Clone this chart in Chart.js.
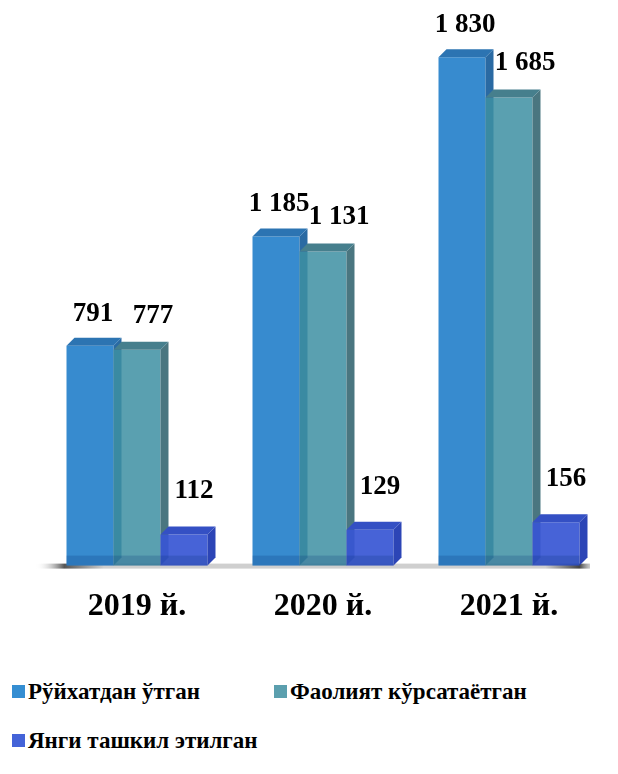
<!DOCTYPE html>
<html>
<head>
<meta charset="utf-8">
<script src="https://cdn.jsdelivr.net/npm/chart.js@4/dist/chart.umd.min.js"></script>
<style>
  html, body { margin: 0; padding: 0; background: #fff; }
  #wrap { position: relative; width: 618px; height: 774px; }
  #box { position: absolute; left: 0; top: 0; width: 618px; height: 660px; }
  .leg { position: absolute; font: bold 23px 'Liberation Serif', serif; color: #000; white-space: nowrap; }
  .leg i { display: inline-block; width: 13px; height: 13px; margin-right: 3px; vertical-align: 1px; }
</style>
</head>
<body>
<div id="wrap">
  <div id="box"><canvas id="c"></canvas></div>
  <div class="leg" style="left:12px;top:679px"><i style="background:#358ed2"></i>Рўйхатдан ўтган</div>
  <div class="leg" style="left:274px;top:679px"><i style="background:#5b9fae"></i>Фаолият кўрсатаётган</div>
  <div class="leg" style="left:12px;top:728px"><i style="background:#4463d8"></i>Янги ташкил этилган</div>
</div>
<script>
  const years = ['2019 й.', '2020 й.', '2021 й.'];
  const registered = [791, 1185, 1830];
  const active = [777, 1131, 1685];
  const created = [112, 129, 156];
  const seriesNames = ['Рўйхатдан ўтган', 'Фаолият кўрсатаётган', 'Янги ташкил этилган'];

  // front faces are a bit see-through, like the Excel 3D glass look
  const FRONT = ['#378bcf', 'rgba(61,143,162,0.85)', 'rgba(55,86,212,0.92)'];
  const TOP = ['#2c74b2', '#467f8d', '#3450c4'];
  const SIDE = ['#2a6aa3', '#4a7680', '#2c45b6'];
  const DEPTH = 8;
  const FONT = "'Liberation Serif', serif";

  // label offsets per series (Excel placed them by hand)
  const LBL_DX = [3, 16, 10];
  const LBL_DY = [-32, -34, -43];

  const fmt = (v) => String(v).replace(/\B(?=(\d{3})+(?!\d))/g, ' ');

  function drawFloor(chart) {
    const ctx = chart.ctx, a = chart.chartArea;
    const g = ctx.createLinearGradient(a.left - 8, 0, a.right, 0);
    g.addColorStop(0, 'rgba(255,255,255,0)');
    g.addColorStop(0.05, '#555');
    g.addColorStop(0.12, '#cfcfcf');
    g.addColorStop(0.9, '#cfcfcf');
    g.addColorStop(0.96, '#444');
    g.addColorStop(1, 'rgba(255,255,255,0)');
    ctx.fillStyle = g;
    ctx.fillRect(a.left - 8, a.bottom - 2, a.right - a.left - 4, 5);
  }

  function drawFaces(chart, i) {
    const ctx = chart.ctx, d = DEPTH;
    chart.getDatasetMeta(i).data.forEach((b) => {
      const l = b.x - b.width / 2, r = b.x + b.width / 2, t = b.y, bot = b.base;
      ctx.fillStyle = SIDE[i];
      ctx.beginPath();
      ctx.moveTo(r, t); ctx.lineTo(r + d, t - d); ctx.lineTo(r + d, bot - d); ctx.lineTo(r, bot);
      ctx.closePath(); ctx.fill();
      ctx.fillStyle = TOP[i];
      ctx.beginPath();
      ctx.moveTo(l, t); ctx.lineTo(l + d, t - d); ctx.lineTo(r + d, t - d); ctx.lineTo(r, t);
      ctx.closePath(); ctx.fill();
      // darker foot where the bar meets the floor
      ctx.fillStyle = 'rgba(10,50,120,0.22)';
      ctx.fillRect(l, bot - 10, r - l, 10);
    });
  }

  /* Paint series front-to-back in index order (Chart.js paints in reverse),
     so each bar's 3D side sits behind the next series' front face. */
  const bars3d = {
    id: 'bars3d',
    beforeDatasetsDraw(chart) {
      const ctx = chart.ctx;
      ctx.save();
      drawFloor(chart);
      for (let i = 0; i < chart.data.datasets.length; i++) {
        chart.getDatasetMeta(i).controller.draw();
        drawFaces(chart, i);
      }
      ctx.restore();
      return false;
    },
    afterDraw(chart) {
      const ctx = chart.ctx;
      ctx.save();
      ctx.font = 'bold 27px ' + FONT;
      ctx.fillStyle = '#000';
      ctx.textAlign = 'center';
      ctx.textBaseline = 'middle';
      chart.data.datasets.forEach((ds, i) => {
        chart.getDatasetMeta(i).data.forEach((b, j) => {
          ctx.fillText(fmt(ds.data[j]), b.x + LBL_DX[i], b.y + LBL_DY[i]);
        });
      });
      ctx.restore();
    }
  };

  new Chart(document.getElementById('c'), {
    type: 'bar',
    data: {
      labels: years,
      datasets: [registered, active, created].map((data, i) => ({
        label: seriesNames[i], data, backgroundColor: FRONT[i], borderWidth: 0,
        barPercentage: 1, categoryPercentage: 0.758
      }))
    },
    options: {
      responsive: true, maintainAspectRatio: false, animation: false,
      layout: { padding: { left: 44, right: 16, top: 10, bottom: 20 } },
      plugins: { legend: { display: false }, tooltip: { enabled: false } },
      scales: {
        x: {
          grid: { display: false }, border: { display: false },
          ticks: { color: '#000', padding: 14, font: { family: FONT, size: 32, weight: 'bold' } }
        },
        y: { display: false, min: 0, max: 2000 }
      }
    },
    plugins: [bars3d]
  });
</script>
</body>
</html>
